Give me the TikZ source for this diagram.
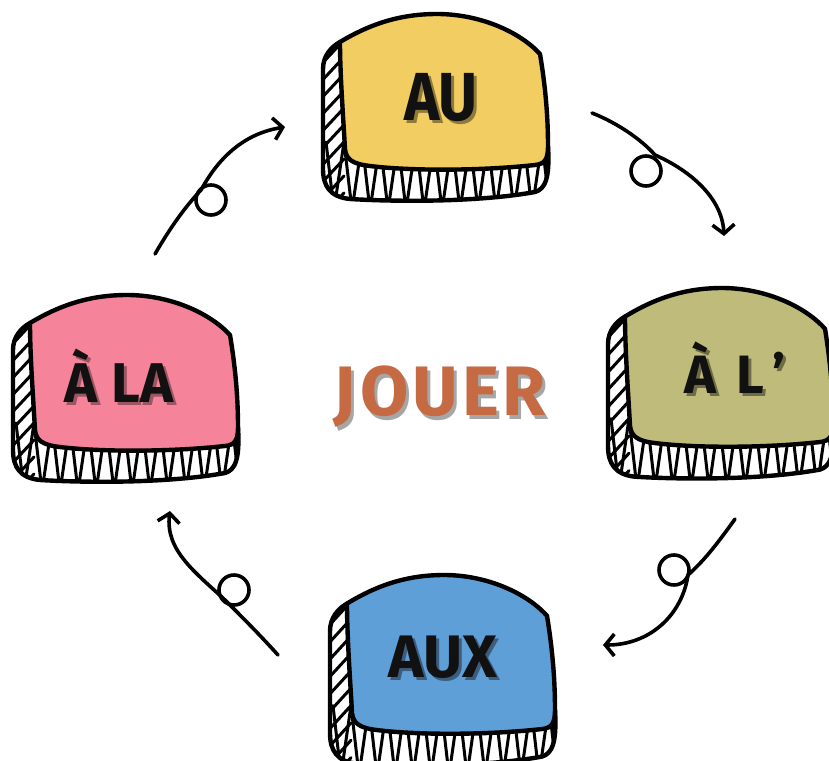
\documentclass[tikz,border=0pt]{standalone}
\usepackage{fontspec}
\setmainfont{Fira Sans}
\usetikzlibrary{arrows.meta}
\definecolor{cyellow}{HTML}{F2CD62}
\definecolor{cpink}{HTML}{F5839A}
\definecolor{colive}{HTML}{BEBB7B}
\definecolor{cblue}{HTML}{5E9FD8}
\definecolor{corange}{HTML}{C66A43}
\definecolor{sgrey}{HTML}{A6A6A6}
\definecolor{syellow}{HTML}{8E7B3A}
\definecolor{spink}{HTML}{9B5563}
\definecolor{solive}{HTML}{6F6C45}
\definecolor{sblue}{HTML}{3C5D7E}
\definecolor{ink}{HTML}{111111}
\tikzset{
  outline/.style={line width=4.4pt, line join=round, line cap=round, draw=black},
  hatchline/.style={line width=3pt, line cap=round, line join=round},
  flow/.style={line width=3.6pt, line cap=round, line join=round,
    -{Straight Barb[length=9pt,width=22pt]}},
  loopc/.style={line width=3.6pt},
  lbl/.style={font=\bfseries, inner sep=0pt, anchor=base},
}
\newcommand\backpath{(208,132) .. controls (210,165) and (205,175) .. (195,178) .. controls (140,188) and (60,188) .. (10,185) .. controls (-10,183) and (-17,172) .. (-17,155) -- (-17,55) .. controls (-17,42) and (-9,33) .. (0,28)}
\newcommand\frontpath{(0,28) .. controls (30,10) and (60,0) .. (97,0) .. controls (140,0) and (180,18) .. (200,40) .. controls (205,70) and (208,100) .. (208,132) .. controls (208,145) and (205,150) .. (195,151) .. controls (140,157) and (70,157) .. (30,152) .. controls (12,150) and (6,145) .. (5,135) .. controls (3,100) and (0,60) .. (0,28) -- cycle}
\newcommand\card[5]{%
  \begin{scope}[shift={(#1,#2)}, yscale=#5]
    \begin{scope}
      \clip \backpath -- cycle;
      \fill[white] \backpath -- cycle;
      \foreach \k in {0,...,9} \draw[hatchline] (-24,{40+\k*17+16}) -- (4,{40+\k*17-14});
      \foreach \k in {0,...,12} \draw[hatchline] ({-14+\k*18},128) -- ({-6+\k*18},196) -- ({4+\k*18},128);
    \end{scope}
    \draw[outline] \backpath;
    \draw[outline, fill=#3] \frontpath;
    \coordinate (#4) at (104,80);
  \end{scope}}
\begin{document}
\begin{tikzpicture}[x=1pt,y=-1pt]
\useasboundingbox (0,0) rectangle (829,760);
\clip (0,0) rectangle (829,760);

\card{340}{14}{cyellow}{cardAU}{1}
\card{30}{295}{cpink}{cardALA}{1}
\card{625}{288}{colive}{cardAL}{1.02}
\card{347}{575}{cblue}{cardAUX}{1.02}

% labels
\node[lbl, text=syellow, font=\bfseries\fontsize{68}{68}\selectfont, xscale=0.88] (shAU) at (444,123) {AU};
\node[lbl, text=ink, font=\bfseries\fontsize{68}{68}\selectfont, xscale=0.88] (tAU) at (441,120) {AU};

\node[lbl, text=spink, font=\bfseries\fontsize{56}{56}\selectfont] (shALA) at (122,405) {À LA};
\node[lbl, text=ink, font=\bfseries\fontsize{56}{56}\selectfont] (tALA) at (119,402) {À LA};

\node[lbl, text=solive, font=\bfseries\fontsize{54}{54}\selectfont] (shAL) at (738,396) {À\hspace{20pt}L\hspace{8pt}’};
\node[lbl, text=ink, font=\bfseries\fontsize{54}{54}\selectfont] (tAL) at (735,393) {À\hspace{20pt}L\hspace{8pt}’};

\node[lbl, text=sblue, font=\bfseries\fontsize{60}{60}\selectfont] (shAUX) at (446,680) {AUX};
\node[lbl, text=ink, font=\bfseries\fontsize{60}{60}\selectfont] (tAUX) at (443,677) {AUX};

\node[lbl, text=sgrey, font=\bfseries\fontsize{70}{70}\selectfont] (shJ) at (443,419) {J\hspace{4pt}O\hspace{4pt}U\hspace{4pt}E\hspace{4pt}R};
\node[lbl, text=corange, font=\bfseries\fontsize{70}{70}\selectfont] (tJ) at (440,415) {J\hspace{4pt}O\hspace{4pt}U\hspace{4pt}E\hspace{4pt}R};

% arrows: start, loop crossing, end
\coordinate (a1s) at (155,254); \coordinate (a1c) at (201,190); \coordinate (a1e) at (285,127);
\coordinate (a2s) at (592,113); \coordinate (a2c) at (655,155); \coordinate (a2e) at (724,236);
\coordinate (a3s) at (735,519); \coordinate (a3c) at (688,575); \coordinate (a3e) at (603,645);
\coordinate (a4s) at (278,655); \coordinate (a4c) at (225,600); \coordinate (a4e) at (170,511);
\draw[flow] (a1s) .. controls (170,228) and (185,207) .. (a1c) .. controls (212,170) and (235,135) .. (a1e);
\draw[flow] (a2s) .. controls (615,122) and (640,138) .. (a2c) .. controls (685,168) and (722,195) .. (a2e);
\draw[flow] (a3s) .. controls (720,540) and (705,560) .. (a3c) .. controls (682,615) and (650,645) .. (a3e);
\draw[flow] (a4s) .. controls (260,635) and (242,617) .. (a4c) .. controls (195,572) and (165,550) .. (a4e);
\draw[loopc] (211,200) circle[radius=15];
\draw[loopc] (646,171) circle[radius=15];
\draw[loopc] (674,570) circle[radius=15];
\draw[loopc] (234,590) circle[radius=15];
\end{tikzpicture}
\end{document}
